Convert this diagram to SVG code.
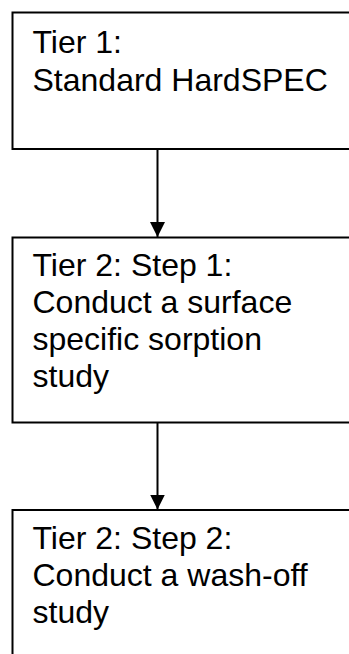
<svg xmlns="http://www.w3.org/2000/svg" width="349" height="654" viewBox="0 0 349 654">
<style>
.box{fill:#fff;stroke:#000;stroke-width:2}
.t{font-family:"Liberation Sans",Arial,sans-serif;font-size:32px;fill:#000}
.c{stroke:#000;stroke-width:2;fill:none}
</style>
<defs>
<marker id="ah" markerUnits="userSpaceOnUse" markerWidth="16" markerHeight="16" refX="15" refY="7.5" orient="auto">
<path d="M0,0 L15,7.5 L0,15 Z" fill="#000"/>
</marker>
</defs>
<rect width="349" height="654" fill="#fff"/>
<g id="tier1">
<rect class="box" x="12.5" y="12.5" width="345" height="136.5"/>
<text class="t" x="32.5" y="53">Tier 1:</text>
<text class="t" x="32.5" y="90.5">Standard HardSPEC</text>
</g>
<g id="tier2step1">
<rect class="box" x="12.5" y="237.5" width="345" height="185"/>
<text class="t" x="32.5" y="276">Tier 2: Step 1:</text>
<text class="t" x="32.5" y="313">Conduct a surface</text>
<text class="t" x="32.5" y="350">specific sorption</text>
<text class="t" x="32.5" y="387">study</text>
</g>
<g id="tier2step2">
<rect class="box" x="12.5" y="510" width="345" height="160"/>
<text class="t" x="32.5" y="549">Tier 2: Step 2:</text>
<text class="t" x="32.5" y="586">Conduct a wash-off</text>
<text class="t" x="32.5" y="622.5">study</text>
</g>
<g id="connectors">
<line class="c" x1="157.5" y1="149" x2="157.5" y2="237" marker-end="url(#ah)"/>
<line class="c" x1="157.5" y1="422.5" x2="157.5" y2="509.5" marker-end="url(#ah)"/>
</g>
</svg>
